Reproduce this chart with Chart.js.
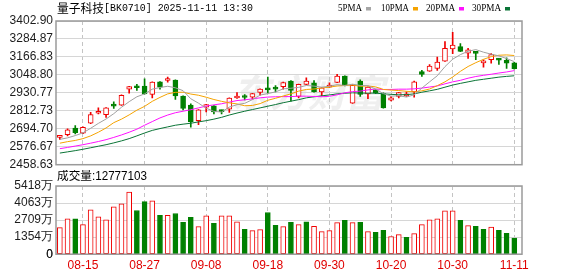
<!DOCTYPE html>
<html>
<head>
<meta charset="utf-8">
<script src="https://cdn.jsdelivr.net/npm/chart.js@4.4.1/dist/chart.umd.min.js"></script>
<style>
    html, body { margin: 0; padding: 0; background: #fff; }
    #wrap { position: relative; width: 578px; height: 276px; overflow: hidden; }
    #kline { position: absolute; left: 0; top: 0; }
    #vol { position: absolute; left: 0; top: 170px; }
</style>
</head>
<body>
<div id="wrap">
    <canvas id="kline" width="578" height="178"></canvas>
    <canvas id="vol" width="578" height="106"></canvas>
</div>
<script>
// trading days 08-12 .. 11-11
const dates = ['08-12','08-13','08-14','08-15','08-18','08-19','08-20','08-21','08-22','08-25',
    '08-26','08-27','08-28','08-29','09-01','09-02','09-03','09-04','09-05','09-08',
    '09-09','09-10','09-11','09-12','09-15','09-16','09-17','09-18','09-19','09-22',
    '09-23','09-24','09-25','09-26','09-29','09-30','10-09','10-10','10-13','10-14',
    '10-15','10-16','10-17','10-20','10-21','10-22','10-23','10-24','10-27','10-28',
    '10-29','10-30','10-31','11-03','11-04','11-05','11-06','11-07','11-10','11-11'];

const open = [2638,2656,2700,2665,2731,2797,2788,2847,2850,2955,
    2967,2975,2920,3003,3012,3014,2909,2850,2748,2836,
    2845,2810,2823,2897,2903,2902,2933,2953,2958,2972,
    3008,2907,2986,2997,2937,2968,2999,3041,2863,3008,
    2924,2950,2926,2882,2907,2911,2937,3071,3073,3091,
    3139,3219,3234,3192,3194,3128,3148,3155,3144,3128];
const high = [2652,2694,2716,2707,2803,2832,2834,2871,2917,2974,
    2986,3023,3003,3005,3034,3016,2911,2858,2821,2856,
    2847,2817,2898,2933,2920,2928,2957,3034,2979,3001,
    3012,2988,3030,3012,2966,2997,3052,3043,2983,3016,
    2970,2952,2931,2907,2935,2937,3008,3078,3117,3166,
    3267,3328,3254,3223,3201,3148,3188,3157,3161,3131];
const low = [2625,2647,2661,2663,2729,2792,2770,2828,2848,2929,
    2946,2922,2898,2955,3001,2887,2819,2705,2722,2806,
    2792,2792,2802,2894,2884,2889,2915,2931,2937,2955,
    2876,2898,2984,2935,2913,2966,2997,2977,2861,2907,
    2893,2926,2830,2878,2898,2907,2902,3038,3071,3078,
    3137,3188,3201,3157,3148,3100,3126,3117,3091,3087];
const close = [2642,2687,2669,2705,2788,2801,2832,2844,2915,2972,
    2964,2924,3001,2968,3015,2911,2828,2740,2819,2854,
    2806,2807,2896,2901,2900,2926,2955,2950,2955,2999,
    2946,2986,3008,2937,2964,2975,3041,2979,2981,2920,
    2968,2929,2832,2898,2933,2922,3003,3052,3106,3133,
    3223,3245,3203,3214,3190,3137,3183,3146,3126,3089];

const ma5 = [2625,2635,2650,2668,2698,2730,2759,2794,2836,2873,
    2905,2924,2955,2966,2974,2964,2945,2892,2863,2830,
    2809,2805,2837,2853,2862,2886,2916,2926,2937,2957,
    2961,2967,2979,2975,2968,2974,2985,2979,2988,2979,
    2978,2955,2926,2909,2912,2903,2918,2962,3003,3043,
    3103,3152,3182,3204,3215,3198,3185,3174,3156,3136];
const ma10 = [2600,2610,2618,2630,2648,2672,2700,2735,2758,2786,
    2817,2842,2875,2901,2924,2934,2935,2923,2915,2902,
    2887,2875,2865,2858,2846,2848,2860,2882,2895,2910,
    2924,2942,2953,2956,2963,2968,2976,2979,2982,2974,
    2976,2970,2953,2949,2946,2941,2937,2944,2956,2978,
    3003,3035,3072,3104,3129,3151,3169,3178,3180,3176];
const ma20 = [2564,2572,2581,2590,2600,2611,2623,2638,2654,2672,
    2692,2718,2742,2766,2785,2800,2810,2820,2832,2844,
    2852,2859,2870,2880,2885,2891,2898,2903,2905,2906,
    2906,2909,2909,2907,2905,2908,2918,2931,2939,2942,
    2950,2956,2953,2953,2955,2955,2957,2962,2969,2976,
    2990,3003,3013,3027,3038,3046,3053,3061,3068,3077];
const ma30 = [2535,2543,2551,2560,2570,2580,2590,2602,2615,2630,
    2648,2667,2684,2696,2707,2718,2725,2731,2740,2748,
    2758,2770,2785,2798,2810,2821,2832,2843,2854,2866,
    2876,2886,2898,2905,2911,2917,2924,2928,2931,2929,
    2929,2929,2924,2921,2918,2919,2924,2935,2944,2954,
    2968,2982,2993,3003,3013,3020,3027,3034,3039,3043];

// volume in 万, up = red hollow
const vols = [2110,2815,2815,2345,3520,2975,2740,3760,3995,4935,
    3470,4180,4230,3080,3080,3235,2530,2920,2190,3050,
    2450,3050,3050,2580,1980,1875,1955,3315,2295,2190,
    2530,2345,2580,2215,1795,1875,2505,2685,2505,2530,
    1795,1745,1900,1405,1560,1350,1640,2345,2740,2815,
    3445,3445,2685,2265,2215,1980,2160,1900,1665,1277.7];
const volUp = [1,1,0,1,1,1,1,1,1,1, 0,0,1,0,1,0,0,0,1,1,
    0,1,1,1,0,1,1,0,0,1, 0,1,0,1,1,1,1,0,1,0,
    1,0,0,1,1,0,1,1,1,1, 1,1,0,1,0,0,1,0,0,0];

const priceLabels = ['2458.63','2576.67','2694.70','2812.73','2930.77','3048.80','3166.83','3284.87','3402.90'];
const volTickVals = [0, 1354.5, 2709, 4063.5, 5418];
const volLabels = ['0','1354万','2709万','4063万','5418万'];
const dateTickIdx = [3, 11, 19, 27, 35, 43, 51, 59];

const RED = '#f00000';
const GREEN = '#008000';
const AXIS_FONT = '12px "Liberation Sans"';

function fitText(ctx, text, x, y, w, font, color) {
    ctx.save();
    ctx.font = font;
    ctx.fillStyle = color;
    ctx.textBaseline = 'middle';
    const m = ctx.measureText(text).width;
    ctx.translate(x, y);
    ctx.scale(w / m, 1);
    ctx.fillText(text, 0, 0);
    ctx.restore();
}

function drawBox(chart) {
    const a = chart.chartArea;
    const ctx = chart.ctx;
    ctx.save();
    ctx.strokeStyle = '#9a9a9a';
    ctx.lineWidth = 1.5;
    ctx.strokeRect(a.left, a.top, a.right - a.left, a.bottom - a.top);
    ctx.restore();
}

const klinePlugin = {
    id: 'klineDeco',
    beforeDraw(chart) {
        // faint watermark
        const ctx = chart.ctx;
        ctx.save();
        ctx.font = 'italic bold 38px "Noto Sans CJK SC"';
        ctx.fillStyle = 'rgba(190,190,190,0.25)';
        ctx.textBaseline = 'middle';
        ctx.fillText('东方财富', 232, 93);
        ctx.restore();
    },
    afterDraw(chart) {
        const ctx = chart.ctx;
        drawBox(chart);
        fitText(ctx, '量子科技', 57, 8, 47, '12px "Noto Sans CJK SC"', '#000');
        fitText(ctx, '[BK0710] 2025-11-11 13:30', 104, 8, 149, '11px "Liberation Mono"', '#000');
        const names = ['5PMA', '10PMA', '20PMA', '30PMA'];
        const colors = ['#a6a6a6', '#f5a300', '#ff10ff', '#0a7436'];
        const tx = [338, 381, 426, 472];
        const tw = [24, 28, 29, 29];
        const sx = [366, 413, 459, 505];
        names.forEach((n, k) => {
            fitText(ctx, n, tx[k], 8.5, tw[k], '10.5px "Liberation Serif"', '#000');
            ctx.fillStyle = colors[k];
            ctx.fillRect(sx[k], 7, 5, 3.5);
        });
    }
};

const volPlugin = {
    id: 'volDeco',
    afterDraw(chart) {
        const ctx = chart.ctx;
        drawBox(chart);
        fitText(ctx, '成交量:12777103', 57, 7, 90, '12px "Liberation Sans", "Noto Sans CJK SC"', '#000');
        // zero label at the axis foot (chart.js drops it here)
        ctx.save();
        ctx.font = AXIS_FONT;
        ctx.fillStyle = '#1c1c1c';
        ctx.textAlign = 'right';
        ctx.textBaseline = 'middle';
        ctx.fillText(volLabels[0], chart.scales.y.left + chart.scales.y.width - 3, chart.scales.y.getPixelForValue(volTickVals[0]));
        ctx.restore();
    }
};

const xBase = {
    type: 'linear',
    min: -0.5,
    max: 60,
    offset: false,
    grid: { color: '#c4c4c4', drawTicks: false, offset: false },
    border: { display: false, dash: [4, 3] },
    afterBuildTicks: s => { s.ticks = dateTickIdx.map(v => ({ value: v })); }
};

const candleUp = close.map((c, i) => c >= open[i]);

new Chart(document.getElementById('kline'), {
    type: 'bar',
    data: {
        datasets: [
            { type: 'line', data: ma5.map((v, i) => ({ x: i, y: v })), borderColor: '#a0a0a0', borderWidth: 1, pointRadius: 0, order: 0 },
            { type: 'line', data: ma10.map((v, i) => ({ x: i, y: v })), borderColor: '#f5a300', borderWidth: 1, pointRadius: 0, order: 0 },
            { type: 'line', data: ma20.map((v, i) => ({ x: i, y: v })), borderColor: '#ff10ff', borderWidth: 1, pointRadius: 0, order: 0 },
            { type: 'line', data: ma30.map((v, i) => ({ x: i, y: v })), borderColor: '#0a7436', borderWidth: 1, pointRadius: 0, order: 0 },
            {
                data: open.map((o, i) => ({ x: i, y: [o, close[i]] })),
                backgroundColor: candleUp.map(u => u ? '#fff' : GREEN),
                borderColor: candleUp.map(u => u ? RED : GREEN),
                borderWidth: 1, borderSkipped: false, barThickness: 5, minBarLength: 2,
                grouped: false, order: 1
            },
            {
                data: low.map((l, i) => ({ x: i, y: [l, high[i]] })),
                backgroundColor: candleUp.map(u => u ? RED : GREEN),
                borderWidth: 0, barThickness: 1, grouped: false, order: 2
            }
        ]
    },
    options: {
        responsive: false,
        animation: false,
        events: [],
        layout: { padding: { left: 0, right: 56, top: 21, bottom: 13.3 } },
        plugins: { legend: { display: false }, tooltip: { enabled: false } },
        scales: {
            x: Object.assign({}, xBase, {
                ticks: { display: false },
                afterFit: s => { s.height = 0; }
            }),
            y: {
                min: 2458.63,
                max: 3402.90,
                grid: { color: '#d6d6d6', drawTicks: false },
                border: { display: false },
                ticks: {
                    padding: 3, color: '#1c1c1c', autoSkip: false,
                    font: { family: 'Liberation Sans', size: 12 },
                    callback: (v, idx) => priceLabels[idx]
                },
                afterBuildTicks: s => { s.ticks = priceLabels.map(t => ({ value: parseFloat(t) })); },
                afterFit: s => { s.width = 56; }
            }
        }
    },
    plugins: [klinePlugin]
});

new Chart(document.getElementById('vol'), {
    type: 'bar',
    data: {
        datasets: [{
            data: vols.map((v, i) => ({ x: i, y: v })),
            backgroundColor: volUp.map(u => u ? '#fff' : GREEN),
            borderColor: volUp.map(u => u ? RED : GREEN),
            borderWidth: 1, borderSkipped: false, barThickness: 5, grouped: false
        }]
    },
    options: {
        responsive: false,
        animation: false,
        events: [],
        layout: { padding: { left: 0, right: 56, top: 16, bottom: 0 } },
        plugins: { legend: { display: false }, tooltip: { enabled: false } },
        scales: {
            x: Object.assign({}, xBase, {
                ticks: {
                    padding: 4, color: '#e00000', maxRotation: 0, autoSkip: false,
                    font: { family: 'Liberation Sans', size: 12 },
                    callback: v => dates[v]
                },
                afterFit: s => { s.height = 21.8; }
            }),
            y: {
                min: 0,
                max: 5418,
                grid: { color: '#d6d6d6', drawTicks: false },
                border: { display: false },
                ticks: {
                    padding: 3, color: '#1c1c1c', autoSkip: false,
                    font: { family: 'Liberation Sans', size: 12 },
                    callback: (v, idx) => volLabels[idx]
                },
                afterBuildTicks: s => { s.ticks = volTickVals.map(v => ({ value: v })); },
                afterFit: s => { s.width = 56; }
            }
        }
    },
    plugins: [volPlugin]
});
</script>
</body>
</html>
